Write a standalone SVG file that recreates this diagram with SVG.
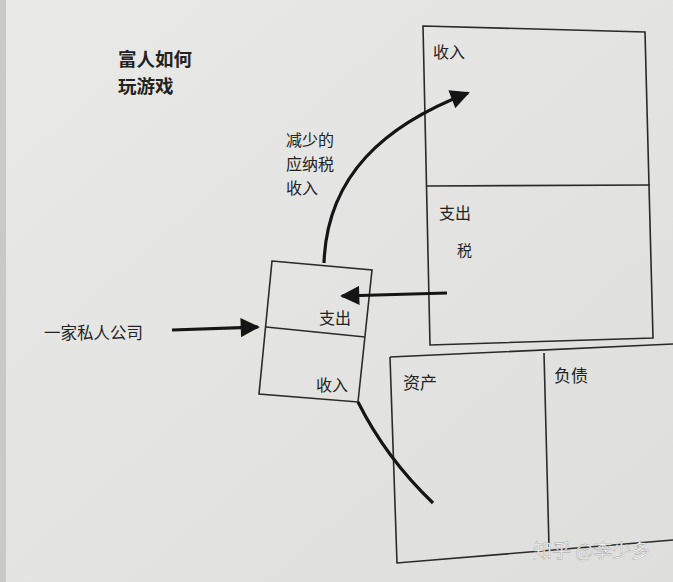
<svg xmlns="http://www.w3.org/2000/svg" width="673" height="582" viewBox="0 0 673 582">
<defs>
<linearGradient id="bg" x1="0" y1="0" x2="1" y2="1">
<stop offset="0" stop-color="#e9e9e7"/>
<stop offset="1" stop-color="#dededc"/>
</linearGradient>
<marker id="ah" viewBox="0 0 10 10" refX="9" refY="5" markerWidth="7" markerHeight="6" orient="auto" markerUnits="strokeWidth">
<path d="M0,0 L10,5 L0,10 z" fill="#151515"/>
</marker>
<style>
.box{fill:none;stroke:#2a2a2a;stroke-width:1.6}
.t{font-family:"Noto Sans CJK SC","Noto Sans",sans-serif;fill:#222}
.conn{fill:none;stroke:#151515;stroke-width:3.2}
</style>
</defs>
<rect width="673" height="582" fill="url(#bg)"/>
<rect x="0" y="0" width="6" height="582" fill="#c9c9c7"/>

<g id="title">
<text class="t" x="118" y="66" font-size="18.5" font-weight="bold">富人如何</text>
<text class="t" x="118" y="93" font-size="18.5" font-weight="bold">玩游戏</text>
</g>

<g id="income-statement">
<path class="box" d="M423,26 L645,32 L653,338 L430,345 Z"/>
<path class="box" d="M426,186 L650,185"/>
<text class="t" x="433" y="58" font-size="16">收入</text>
<text class="t" x="439" y="219" font-size="16">支出</text>
<text class="t" x="457" y="256" font-size="15">税</text>
</g>

<g id="balance-sheet">
<path class="box" d="M390,357 L673,344 M390,357 L397,563 L673,540"/>
<path class="box" d="M544,353 L549,547"/>
<text class="t" x="403" y="389" font-size="17">资产</text>
<text class="t" x="554" y="382" font-size="17">负债</text>
</g>

<g id="company">
<path class="box" d="M272,261 L372,270 L358,402 L259,394 Z"/>
<path class="box" d="M266,327 L365,337"/>
<text class="t" x="319" y="324" font-size="16">支出</text>
<text class="t" x="316" y="391" font-size="16">收入</text>
</g>

<g id="labels">
<text class="t" x="44" y="339" font-size="16.5">一家私人公司</text>
<text class="t" x="286" y="146" font-size="16">减少的</text>
<text class="t" x="286" y="170" font-size="16">应纳税</text>
<text class="t" x="286" y="194" font-size="16">收入</text>
</g>

<g id="connectors">
<path class="conn" d="M172,330 L258,327" marker-end="url(#ah)"/>
<path class="conn" d="M447,293 L342,296" marker-end="url(#ah)"/>
<path class="conn" d="M324,263 C327,175 385,125 468,93" marker-end="url(#ah)"/>
<path class="conn" d="M358,402 Q386,458 433,503" stroke-width="2.8"/>
</g>

<g id="watermark">
<text x="533" y="558" font-size="19" font-family="&quot;Noto Sans CJK SC&quot;,sans-serif" fill="#fafafa" stroke="#9a9a9a" stroke-width="0.4">知乎 @李少多</text>
</g>
</svg>
